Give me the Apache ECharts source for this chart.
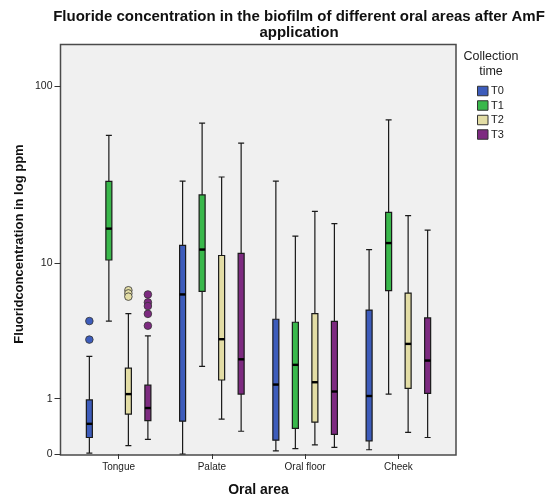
<!DOCTYPE html>
<html><head><meta charset="utf-8">
<script src="https://cdn.jsdelivr.net/npm/echarts@6/dist/echarts.min.js"></script>
<style>html,body{margin:0;padding:0;background:#fff}#c{width:556px;height:502px}</style>
</head><body><div id="c"></div>
<script>
// ---- data (ppm) ----
const categories = ['Tongue', 'Palate', 'Oral floor', 'Cheek'];
const seriesNames = ['T0', 'T1', 'T2', 'T3'];
const yTickLabels = [0, 1, 10, 100];
// each entry: [min, Q1, median, Q3, max] per category
const boxT0 = [[0.01, 0.23, 0.46, 0.97, 2.4], [0, 0.51, 6.4, 12.7, 29.7], [0.04, 0.19, 1.39, 4.42, 29.7], [0.055, 0.18, 1.07, 5.08, 12.0]];
const boxT1 = [[4.3, 10.4, 15.9, 29.6, 53.4], [2.0, 6.7, 12.0, 24.8, 62.5], [0.07, 0.38, 2.06, 4.22, 14.4], [1.12, 6.76, 13.1, 19.7, 65.2]];
const boxT2 = [[0.11, 0.65, 1.12, 1.94, 4.82], [0.55, 1.53, 3.22, 11.06, 31.3], [0.12, 0.49, 1.46, 4.82, 20.0], [0.31, 1.28, 2.98, 6.53, 18.9]];
const boxT3 = [[0.2, 0.52, 0.78, 1.37, 3.4], [0.33, 1.12, 2.28, 11.4, 48.4], [0.087, 0.28, 1.19, 4.28, 17.0], [0.23, 1.14, 2.23, 4.51, 15.6]];
// outliers: [categoryIndex, value]
const outT0 = [[0, 4.3], [0, 3.2]];
const outT1 = [];
const outT2 = [[0, 6.8], [0, 6.5], [0, 6.2]];
const outT3 = [[0, 6.4], [0, 5.7], [0, 5.4], [0, 4.8], [0, 4.0]];

const colors = ['#3d5cbb', '#39b84b', '#e3dda5', '#7d2a80'];
const boxes = [boxT0, boxT1, boxT2, boxT3];
const outs = [outT0, outT1, outT2, outT3];

// axis transform used by the chart: log10(x + 1)
const tf = v => Math.log10(v + 1);
const yMax = 2.231;

function offsetFor(idx, bw, n) {
  const avail = bw * 0.8 - 2;
  const gap = avail / n * 0.3;
  const w = (avail - gap * (n - 1)) / n;
  return w / 2 - avail / 2 + idx * (gap + w);
}

const series = [];
seriesNames.forEach((name, i) => {
  series.push({
    name: name, type: 'boxplot', boxWidth: [6, 6], z: 2,
    itemStyle: { color: colors[i], borderColor: '#1a1a1a', borderWidth: 1.2 },
    data: boxes[i].map(b => b.map(tf))
  });
});
seriesNames.forEach((name, i) => {
  series.push({
    name: name + ' median', type: 'custom', z: 4,
    renderItem: function (params, api) {
      const c = api.coord([api.value(0), api.value(1)]);
      const bw = api.size([1, 0])[0];
      const x = c[0] + offsetFor(i, bw, seriesNames.length);
      return { type: 'line', shape: { x1: x - 3, y1: c[1], x2: x + 3, y2: c[1] }, style: { stroke: '#000', lineWidth: 2.4 } };
    },
    data: boxes[i].map((b, k) => [k, tf(b[2])])
  });
  series.push({
    name: name + ' outliers', type: 'custom', z: 5,
    renderItem: function (params, api) {
      const c = api.coord([api.value(0), api.value(1)]);
      const bw = api.size([1, 0])[0];
      const x = c[0] + offsetFor(i, bw, seriesNames.length);
      return { type: 'circle', shape: { cx: x, cy: c[1], r: 3.8 }, style: { fill: colors[i], stroke: '#333', lineWidth: 0.8 } };
    },
    data: outs[i].map(o => [o[0], tf(o[1])])
  });
});

const chart = echarts.init(document.getElementById('c'));
chart.setOption({
  animation: false,
  textStyle: { fontFamily: 'Liberation Sans, Arial, sans-serif' },
  title: {
    text: 'Fluoride concentration in the biofilm of different oral areas after AmF\napplication',
    left: 299, top: 9, padding: 0, textAlign: 'center', textVerticalAlign: 'top',
    textStyle: { fontSize: 15, fontWeight: 'bold', color: '#111', lineHeight: 16, fontFamily: 'Liberation Sans, Arial, sans-serif' }
  },
  legend: {
    data: seriesNames.map((n, i) => ({ name: n, itemStyle: { color: colors[i], borderColor: '#333', borderWidth: 1 } })),
    orient: 'vertical', left: 477, top: 85.5, padding: 0,
    icon: 'rect', itemWidth: 10.5, itemHeight: 9.5, itemGap: 3.5,
    textStyle: { fontSize: 11, color: '#222', padding: [0, 0, 0, -2] }
  },
  grid: { left: 72, right: 111, top: 44.5, bottom: 47, containLabel: false },
  graphic: [
    { type: 'rect', z: -5, shape: { x: 60.5, y: 44.5, width: 395.5, height: 410.5 }, style: { fill: '#f0f0f0', stroke: '#4a4a4a', lineWidth: 1.5 } },
    { type: 'text', x: 491, y: 49.5, style: { text: 'Collection\ntime', align: 'center', verticalAlign: 'top', font: '12.5px "Liberation Sans", Arial, sans-serif', lineHeight: 14.7, fill: '#222' } },
    { type: 'text', x: 19, y: 244, rotation: Math.PI / 2, style: { text: 'Fluoridconcentration in log ppm', align: 'center', verticalAlign: 'middle', font: 'bold 13px "Liberation Sans", Arial, sans-serif', fill: '#111' } }
  ],
  xAxis: {
    type: 'category', data: categories,
    name: 'Oral area', nameLocation: 'middle', nameGap: 29,
    nameTextStyle: { fontSize: 14, fontWeight: 'bold', color: '#111' },
    axisLine: { show: false },
    axisTick: { show: true, alignWithLabel: true, length: 5, lineStyle: { color: '#333' } },
    axisLabel: { fontSize: 10, color: '#222', margin: 8 },
    splitLine: { show: false }
  },
  yAxis: {
    type: 'value', min: 0, max: yMax, offset: 11.5,
    axisLine: { show: false },
    axisTick: { show: true, length: 6, customValues: yTickLabels.map(tf), lineStyle: { color: '#333' } },
    axisLabel: { fontSize: 10.5, color: '#222', margin: 8, customValues: yTickLabels.map(tf),
      formatter: v => String(Math.round(Math.pow(10, v) - 1)) },
    splitLine: { show: false }
  },
  series: series
});
</script></body></html>
